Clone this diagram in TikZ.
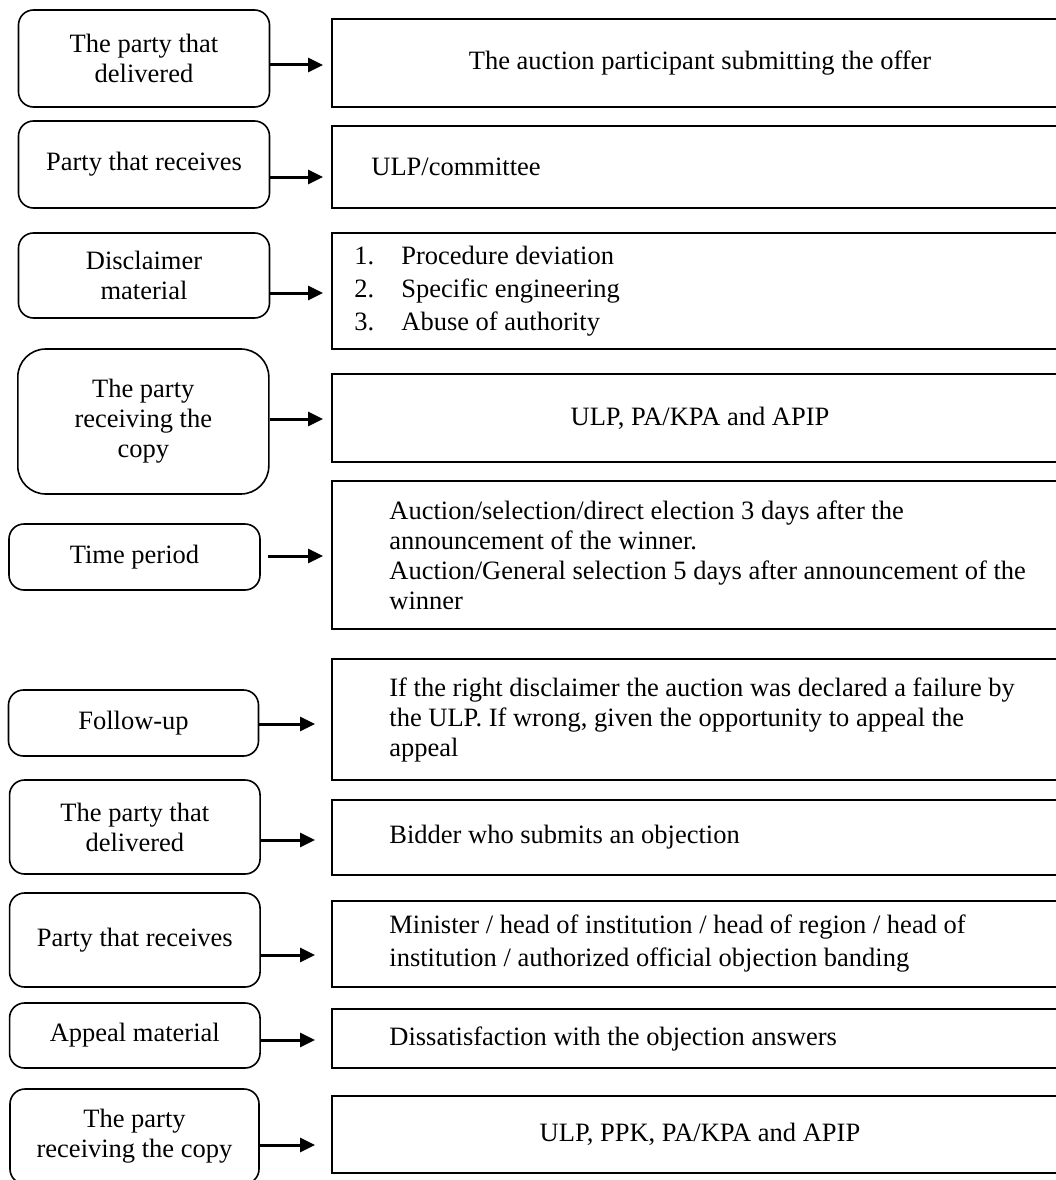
\documentclass[tikz,border=0pt]{standalone}
\usepackage{fontspec}
\setmainfont{Liberation Serif}
\usetikzlibrary{arrows.meta,calc}
\begin{document}
\begin{tikzpicture}[x=1pt,y=-1pt,
  lbox/.style={draw, line width=1.6pt, rounded corners=15pt, align=center, inner sep=0pt,
    font=\fontsize{26.5}{30}\selectfont},
  rbox/.style={draw, line width=1.6pt, minimum width=736pt, inner sep=0pt,
    font=\fontsize{26.5}{30}\selectfont, align=center},
  rtext/.style={anchor=west, inner sep=0pt, align=left, font=\fontsize{26.5}{30}\selectfont},
  arr/.style={line width=3pt, -{Triangle[length=15pt,width=14pt]}}]
\useasboundingbox (0,0) rectangle (1056,1180);
\clip (0,0) rectangle (1056,1180);

% left boxes
\node[lbox, minimum width=251pt, minimum height=97pt] (L1) at (144,58.5) {The party that\\delivered};
\node[lbox, minimum width=251pt, minimum height=87pt] (L2) at (144,164.5) {Party that receives};
\node[lbox, minimum width=251pt, minimum height=85pt] (L3) at (144,275.5) {Disclaimer\\material};
\node[lbox, rounded corners=28pt, minimum width=251pt, minimum height=145pt] (L4) at (143.3,421.5) {The party\\receiving the\\copy};
\node[lbox, minimum width=251pt, minimum height=66pt] (L5) at (134.5,557) {Time period};
\node[lbox, minimum width=250pt, minimum height=66pt] (L6) at (133.5,723) {Follow-up};
\node[lbox, minimum width=250.5pt, minimum height=94pt] (L7) at (134.8,827) {The party that\\delivered};
\node[lbox, minimum width=250.5pt, minimum height=94pt] (L8) at (134.8,940) {Party that receives};
\node[lbox, minimum width=250.5pt, minimum height=65pt] (L9) at (134.8,1035.5) {Appeal material};
\node[lbox, minimum width=249pt, minimum height=95pt] (L10) at (134.5,1136.5) {The party\\receiving the copy};

% right boxes
\node[rbox, minimum height=88pt] (R1) at (700,63) {The auction participant submitting the offer};
\node[rbox, minimum height=82pt] (R2) at (700,167) {};
\node[rtext] (T2) at ([xshift=40pt]R2.west) {ULP/committee};
\node[rbox, minimum height=116pt] (R3) at (700,291) {};
\node[rtext, font=\fontsize{26.5}{33}\selectfont] (T3) at ([xshift=23pt]R3.west)
  {\makebox[47pt][l]{1.}Procedure deviation\\\makebox[47pt][l]{2.}Specific engineering\\\makebox[47pt][l]{3.}Abuse of authority};
\node[rbox, minimum height=88pt] (R4) at (700,418) {ULP, PA/KPA and APIP};
\node[rbox, minimum height=148pt] (R5) at (700,555) {};
\node[rtext] (T5) at ([xshift=58pt]R5.west)
  {Auction/selection/direct election 3 days after the\\announcement of the winner.\\Auction/General selection 5 days after announcement of the\\winner};
\node[rbox, minimum height=121pt] (R6) at (700,719.5) {};
\node[rtext] (T6) at ([xshift=58pt]R6.west)
  {If the right disclaimer the auction was declared a failure by\\the ULP. If wrong, given the opportunity to appeal the\\appeal};
\node[rbox, minimum height=75pt] (R7) at (700,837.5) {};
\node[rtext] (T7) at ([xshift=58pt]R7.west) {Bidder who submits an objection};
\node[rbox, minimum height=86pt] (R8) at (700,944) {};
\node[rtext, font=\fontsize{26.5}{33}\selectfont] (T8) at ([xshift=58pt]R8.west)
  {Minister / head of institution / head of region / head of\\institution / authorized official objection banding};
\node[rbox, minimum height=59pt] (R9) at (700,1038.5) {};
\node[rtext] (T9) at ([xshift=58pt]R9.west) {Dissatisfaction with the objection answers};
\node[rbox, minimum height=77pt] (R10) at (700,1134.5) {ULP, PPK, PA/KPA and APIP};

% arrow tips
\coordinate (A1) at (323,65);
\coordinate (A2) at (323,177);
\coordinate (A3) at (323,293);
\coordinate (A4) at (323,419);
\coordinate (A5) at (323,556);
\coordinate (A6) at (315,724);
\coordinate (A7) at (315,840);
\coordinate (A8) at (315,955);
\coordinate (A9) at (315,1040);
\coordinate (A10) at (315,1145);

\draw[arr] (L1.east |- A1) -- (A1);
\draw[arr] (L2.east |- A2) -- (A2);
\draw[arr] (L3.east |- A3) -- (A3);
\draw[arr] (L4.east |- A4) -- (A4);
\draw[arr] ([xshift=7pt]L5.east |- A5) -- (A5);
\draw[arr] (L6.east |- A6) -- (A6);
\draw[arr] (L7.east |- A7) -- (A7);
\draw[arr] (L8.east |- A8) -- (A8);
\draw[arr] (L9.east |- A9) -- (A9);
\draw[arr] (L10.east |- A10) -- (A10);
\end{tikzpicture}
\end{document}
